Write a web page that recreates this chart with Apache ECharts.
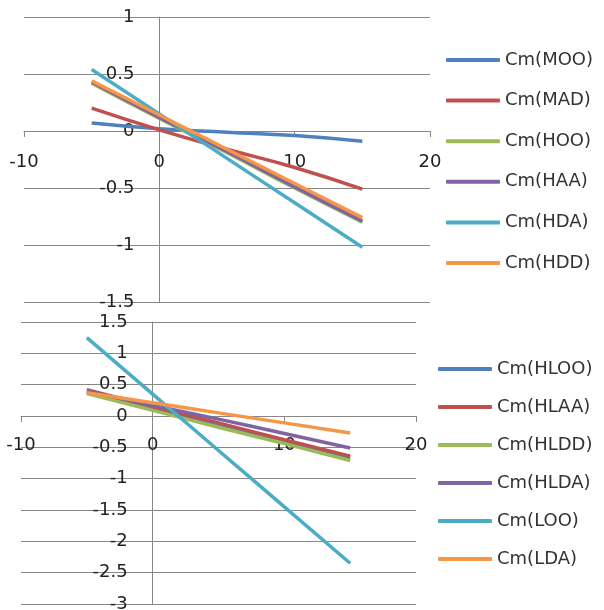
<!DOCTYPE html>
<html>
<head>
<meta charset="utf-8">
<script src="https://cdn.jsdelivr.net/npm/echarts@6/dist/echarts.min.js"></script>
<style>
  html, body { margin: 0; padding: 0; background: #fff; }
  #chart { width: 604px; height: 610px; }
</style>
</head>
<body>
<div id="chart"></div>
<script>
// x positions shared by every series
const xs = [-5, 0, 5, 10, 15]

// top chart
const topNames = ['Cm(MOO)', 'Cm(MAD)', 'Cm(HOO)', 'Cm(HAA)', 'Cm(HDA)', 'Cm(HDD)']
const topValues = [
    [0.07, 0.02, -0.01, -0.04, -0.09],
    [0.20, 0.01, -0.16, -0.32, -0.51],
    [0.42, 0.11, -0.19, -0.50, -0.80],
    [0.43, 0.12, -0.18, -0.49, -0.79],
    [0.54, 0.15, -0.24, -0.63, -1.02],
    [0.44, 0.14, -0.16, -0.46, -0.76]
]

// bottom chart
const bottomNames = ['Cm(HLOO)', 'Cm(HLAA)', 'Cm(HLDD)', 'Cm(HLDA)', 'Cm(LOO)', 'Cm(LDA)']
const bottomValues = [
    [0.38, 0.12, -0.15, -0.42, -0.68],
    [0.42, 0.15, -0.11, -0.38, -0.64],
    [0.36, 0.09, -0.18, -0.44, -0.71],
    [0.40, 0.17, -0.05, -0.28, -0.51],
    [1.25, 0.35, -0.55, -1.45, -2.35],
    [0.37, 0.21, 0.05, -0.11, -0.27]
]

// axis ranges
const xRange = [-10, 20]
const topYRange = [-1.5, 1]
const bottomYRange = [-3, 1.5]

const colors = ['#4F81BD', '#C0504D', '#9BBB59', '#8064A2', '#4BACC6', '#F79646']
const font = 'DejaVu Sans'
const gray = '#878787'

const grids = [
    { left: 24, top: 17, width: 406, height: 285, outerBoundsMode: 'none' },
    { left: 21, top: 322, width: 395, height: 282, outerBoundsMode: 'none' }
]

const myChart = echarts.init(document.getElementById('chart'))

// excel style: axes cross at zero, labels follow the axis line
function xAxis(gridIndex, yRange, margin) {
    const g = grids[gridIndex]
    return {
        type: 'value',
        gridIndex: gridIndex,
        position: 'bottom',
        offset: -g.height * (0 - yRange[0]) / (yRange[1] - yRange[0]),
        min: xRange[0],
        max: xRange[1],
        interval: 10,
        axisLine: { onZero: false, lineStyle: { color: gray, width: 1 } },
        axisTick: { show: true, inside: false, length: 6, lineStyle: { color: gray } },
        splitLine: { show: false },
        axisLabel: { color: '#222', fontFamily: font, fontSize: 18, margin: margin }
    }
}

function yAxis(gridIndex, yRange) {
    const g = grids[gridIndex]
    return {
        type: 'value',
        gridIndex: gridIndex,
        position: 'left',
        offset: -g.width * (0 - xRange[0]) / (xRange[1] - xRange[0]),
        min: yRange[0],
        max: yRange[1],
        interval: 0.5,
        axisLine: { show: true, onZero: false, lineStyle: { color: gray, width: 1 } },
        axisTick: { show: false },
        splitLine: { lineStyle: { color: gray, width: 1 } },
        axisLabel: { color: '#222', fontFamily: font, fontSize: 18, margin: 25 }
    }
}

function buildSeries(names, values, idx) {
    return names.map((name, i) => ({
        name: name,
        type: 'line',
        xAxisIndex: idx,
        yAxisIndex: idx,
        data: xs.map((x, j) => [x, values[i][j]]),
        smooth: true,
        symbol: 'none',
        lineStyle: { width: 3.5, color: colors[i] },
        itemStyle: { color: colors[i] }
    }))
}

function legend(names, left, top, gap) {
    return {
        data: names,
        orient: 'vertical',
        left: left,
        top: top,
        padding: 0,
        itemGap: gap,
        itemWidth: 54,
        itemHeight: 4,
        icon: 'roundRect',
        selectedMode: false,
        textStyle: { color: '#333', fontFamily: font, fontSize: 18, lineHeight: 18 }
    }
}

const option = {
    animation: false,
    color: colors,
    grid: grids,
    xAxis: [xAxis(0, topYRange, 22), xAxis(1, bottomYRange, 20)],
    yAxis: [yAxis(0, topYRange), yAxis(1, bottomYRange)],
    legend: [
        legend(topNames, 446, 51, 22.6),
        legend(bottomNames, 438, 360, 20)
    ],
    series: buildSeries(topNames, topValues, 0).concat(buildSeries(bottomNames, bottomValues, 1))
}

myChart.setOption(option)
</script>
</body>
</html>
